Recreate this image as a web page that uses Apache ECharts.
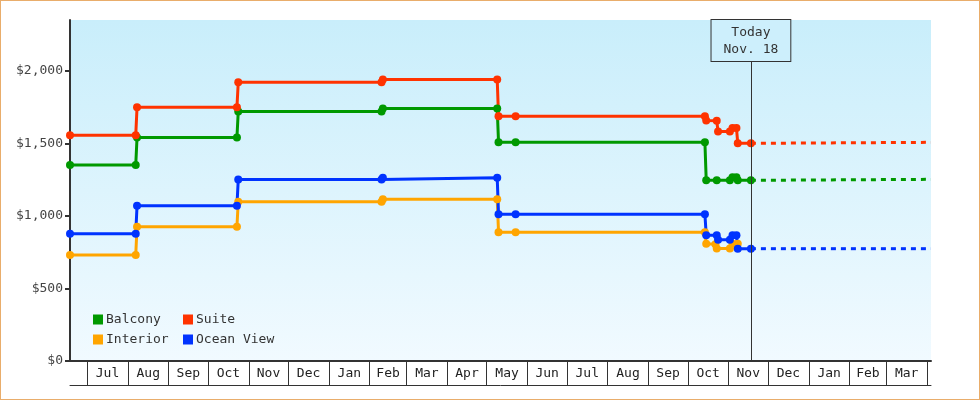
<!DOCTYPE html>
<html>
<head>
<meta charset="utf-8">
<script src="https://cdn.jsdelivr.net/npm/echarts@6/dist/echarts.min.js"></script>
<style>
  html, body { margin: 0; padding: 0; background: #fff; }
  #wrap { position: relative; width: 980px; height: 400px; }
  #chart { width: 980px; height: 400px; }
  #frame { position: absolute; left: 0; top: 0; width: 980px; height: 400px; box-sizing: border-box; border: 1px solid #e9ad6b; pointer-events: none; }
</style>
</head>
<body>
<div id="wrap"><div id="chart"></div><div id="frame"></div></div>
<script>
// ---- data ----
const balcony = [
  ['2013-06-18',1350],['2013-08-07',1350],['2013-08-08',1540],['2013-10-23',1540],['2013-10-24',1720],
  ['2014-02-10',1720],['2014-02-11',1740],['2014-05-09',1740],['2014-05-10',1508],['2014-05-23',1508],
  ['2014-10-14',1508],['2014-10-15',1245],['2014-10-23',1245],['2014-11-02',1245],['2014-11-04',1266],
  ['2014-11-07',1266],['2014-11-08',1245],['2014-11-18',1245]
];
const suite = [
  ['2013-06-18',1555],['2013-08-07',1555],['2013-08-08',1748],['2013-10-23',1748],['2013-10-24',1921],
  ['2014-02-10',1921],['2014-02-11',1940],['2014-05-09',1940],['2014-05-10',1686],['2014-05-23',1686],
  ['2014-10-14',1686],['2014-10-15',1657],['2014-10-23',1655],['2014-10-24',1582],['2014-11-02',1582],
  ['2014-11-04',1606],['2014-11-07',1606],['2014-11-08',1500],['2014-11-18',1500]
];
const interior = [
  ['2013-06-18',730],['2013-08-07',730],['2013-08-08',925],['2013-10-23',925],['2013-10-24',1098],
  ['2014-02-10',1098],['2014-02-11',1115],['2014-05-09',1115],['2014-05-10',888],['2014-05-23',888],
  ['2014-10-14',888],['2014-10-15',808],['2014-10-22',805],['2014-10-23',775],['2014-11-02',775],
  ['2014-11-04',808],['2014-11-08',808]
];
const oceanView = [
  ['2013-06-18',877],['2013-08-07',877],['2013-08-08',1070],['2013-10-23',1070],['2013-10-24',1250],
  ['2014-02-10',1250],['2014-02-11',1263],['2014-05-09',1263],['2014-05-10',1012],['2014-05-23',1012],
  ['2014-10-14',1012],['2014-10-15',866],['2014-10-23',866],['2014-10-24',836],['2014-11-02',836],
  ['2014-11-04',866],['2014-11-07',866],['2014-11-08',774],['2014-11-18',774]
];
const suiteForecast = [['2014-11-18',1500],['2015-04-04',1507]];
const balconyForecast = [['2014-11-18',1245],['2015-04-04',1252]];
const oceanForecast = [['2014-11-18',774],['2015-04-04',774]];

const seriesNames = ['Balcony','Suite','Interior','Ocean View'];
const seriesColors = ['#009900','#ff3300','#ffa500','#0033ff'];
const todayDate = '2014-11-18';
const todayLabel = 'Today\nNov. 18';
const xMin = '2013-06-18';
const xMax = '2015-04-04';
const monthStarts = ['2013-07-01','2013-08-01','2013-09-01','2013-10-01','2013-11-01','2013-12-01',
  '2014-01-01','2014-02-01','2014-03-01','2014-04-01','2014-05-01','2014-06-01','2014-07-01',
  '2014-08-01','2014-09-01','2014-10-01','2014-11-01','2014-12-01','2015-01-01','2015-02-01',
  '2015-03-01','2015-04-01'];
const monthLabels = ['Jul','Aug','Sep','Oct','Nov','Dec','Jan','Feb','Mar','Apr','May','Jun',
  'Jul','Aug','Sep','Oct','Nov','Dec','Jan','Feb','Mar'];
const yTicks = [0,500,1000,1500,2000];
const yMax = 2350;

// ---- helpers: dates -> day numbers (UTC) on a value axis ----
function ts(s) { const p = s.split('-').map(Number); return Date.UTC(p[0], p[1]-1, p[2]) / 86400000; }
function toPts(arr) { return arr.map(d => [ts(d[0]), d[1]]); }
const tickVals = monthStarts.map(ts);
const labelVals = monthLabels.map((m, i) => (tickVals[i] + tickVals[i+1]) / 2);
function monthFor(v) {
  let best = 0, bd = Infinity;
  labelVals.forEach((lv, i) => { const d = Math.abs(lv - v); if (d < bd) { bd = d; best = i; } });
  return monthLabels[best];
}
const FONT = 'DejaVu Sans Mono';

const solid = [balcony, suite, interior, oceanView].map((arr, i) => ({
  name: seriesNames[i], type: 'line', data: toPts(arr), symbol: 'circle', symbolSize: 8,
  showSymbol: true, clip: false, xAxisIndex: 0,
  lineStyle: { color: seriesColors[i], width: 3 }, itemStyle: { color: seriesColors[i] },
  emphasis: { disabled: true }, z: 3
}));
const fc = [[balconyForecast, 0], [suiteForecast, 1], [oceanForecast, 3]].map(([arr, i]) => ({
  name: seriesNames[i] + ' forecast', type: 'line', data: toPts(arr), showSymbol: false, symbol: 'none',
  lineStyle: { color: seriesColors[i], width: 3, type: [5, 5] }, itemStyle: { color: seriesColors[i] },
  emphasis: { disabled: true }, z: 2
}));
fc[0].markLine = {
  silent: true, symbol: ['none','none'], animation: false,
  lineStyle: { color: '#333', width: 1, type: 'solid' },
  label: {
    show: true, position: 'end', distance: -41, formatter: todayLabel,
    fontFamily: FONT, fontSize: 13, color: '#333', lineHeight: 17,
    backgroundColor: '#cdeffc', borderColor: '#333', borderWidth: 1, padding: [4, 12, 3, 12]
  },
  data: [{ xAxis: ts(todayDate) }]
};

const chart = echarts.init(document.getElementById('chart'), null, { renderer: 'canvas' });
chart.setOption({
  animation: false,
  backgroundColor: '#ffffff',
  grid: {
    left: 70, right: 49, top: 20, bottom: 39, show: true, borderWidth: 0,
    backgroundColor: { type: 'linear', x: 0, y: 0, x2: 0, y2: 1,
      colorStops: [{ offset: 0, color: '#c9eefb' }, { offset: 1, color: '#f1faff' }] }
  },
  legend: [
    { data: ['Balcony','Interior'], orient: 'vertical', left: 93, top: 313, padding: 0, itemGap: 7,
      icon: 'rect', itemWidth: 10, itemHeight: 10, selectedMode: false,
      itemStyle: { borderWidth: 0 }, lineStyle: { width: 0 },
      textStyle: { fontFamily: FONT, fontSize: 13, color: '#333', padding: [0,0,0,-2] } },
    { data: ['Suite','Ocean View'], orient: 'vertical', left: 183, top: 313, padding: 0, itemGap: 7,
      icon: 'rect', itemWidth: 10, itemHeight: 10, selectedMode: false,
      itemStyle: { borderWidth: 0 }, lineStyle: { width: 0 },
      textStyle: { fontFamily: FONT, fontSize: 13, color: '#333', padding: [0,0,0,-2] } }
  ],
  xAxis: [
    { type: 'value', min: ts(xMin), max: ts(xMax), position: 'bottom',
      axisLine: { show: true, lineStyle: { color: '#333', width: 2 } },
      axisTick: { show: true, length: 24, customValues: tickVals, lineStyle: { color: '#333', width: 1 } },
      axisLabel: { show: true, customValues: labelVals, formatter: (v) => monthFor(v), margin: 6,
        fontFamily: FONT, fontSize: 13, color: '#222', hideOverlap: false },
      splitLine: { show: false }, minorTick: { show: false } },
    { type: 'value', min: ts(xMin), max: ts(xMax), position: 'bottom', offset: 24,
      axisLine: { show: true, lineStyle: { color: '#333', width: 1 } },
      axisTick: { show: false }, axisLabel: { show: false }, splitLine: { show: false } }
  ],
  yAxis: {
    type: 'value', min: 0, max: yMax,
    axisLine: { show: true, lineStyle: { color: '#333', width: 2 } },
    axisTick: { show: true, length: 5, customValues: yTicks, lineStyle: { color: '#333', width: 2 } },
    axisLabel: { customValues: yTicks, formatter: (v) => '$' + v.toLocaleString('en-US'), margin: 7,
      fontFamily: FONT, fontSize: 13, color: '#444' },
    splitLine: { show: false }
  },
  series: solid.concat(fc)
});
</script>
</body>
</html>
